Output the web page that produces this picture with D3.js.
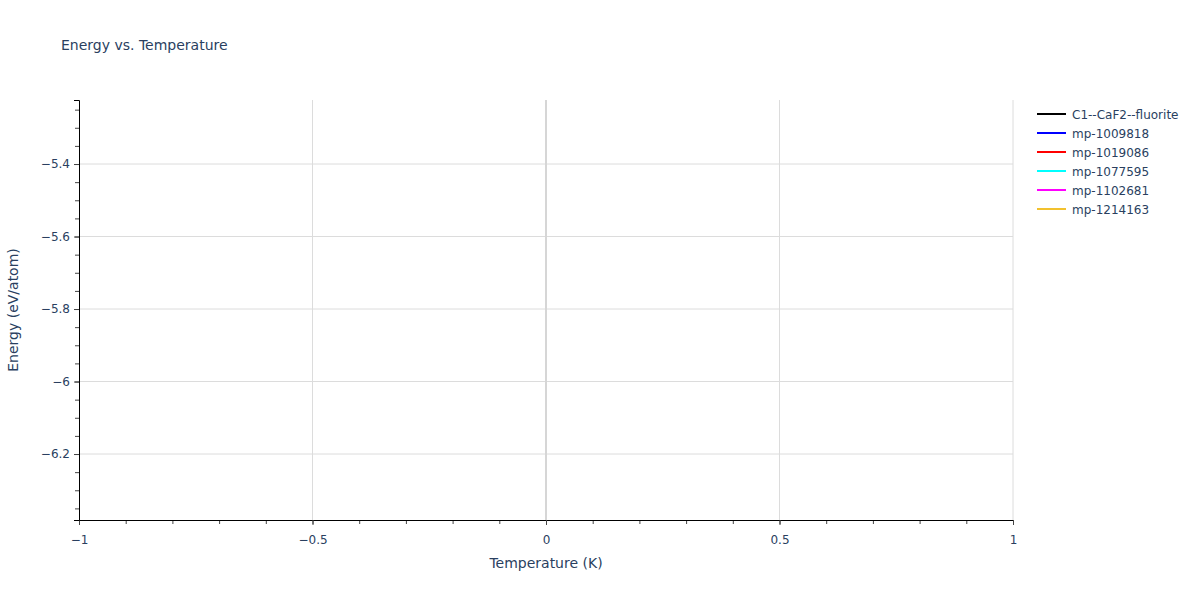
<!DOCTYPE html>
<html>
<head>
<meta charset="utf-8">
<script src="https://cdn.jsdelivr.net/npm/d3@7"></script>
<style>
  body { margin: 0; background: #fff; }
  svg text { font-family: "DejaVu Sans", Verdana, sans-serif; fill: #2a3f5f; }
</style>
</head>
<body>
<svg id="chart" width="1200" height="600"></svg>
<script>
// series shown in the legend; each one has a single point at T = 0
var seriesNames = ['C1--CaF2--fluorite', 'mp-1009818', 'mp-1019086', 'mp-1077595', 'mp-1102681', 'mp-1214163'];
var seriesColors = ['#000000', '#0000ff', '#ff0000', '#00ffff', '#ff00ff', '#f2c12e'];
var temperatures = [0];
var energies = [-5.28, -5.95, -6.05, -6.33, -5.62, -5.78];

var xTicks = [-1, -0.5, 0, 0.5, 1];
var yTicks = [-6.2, -6, -5.8, -5.6, -5.4];

var margin = {left: 79, right: 187, top: 100, bottom: 80};
var width = 1200 - margin.left - margin.right;
var height = 600 - margin.top - margin.bottom;

var svg = d3.select('#chart');

var x = d3.scaleLinear().domain([-1, 1]).range([0, width]);
var y = d3.scaleLinear().domain([-6.382, -5.2234]).range([height, 0]);

var g = svg.append('g').attr('transform', 'translate(' + margin.left + ',' + margin.top + ')');

// grid
g.selectAll('.ygrid').data(yTicks).enter().append('line')
  .attr('x1', 0).attr('x2', width)
  .attr('y1', function(d) { return y(d); }).attr('y2', function(d) { return y(d); })
  .attr('stroke', '#dcdcdc').attr('stroke-width', 1);

g.selectAll('.xgrid').data(xTicks.filter(function(d) { return d !== 0 && d !== -1; })).enter().append('line')
  .attr('y1', 0).attr('y2', height)
  .attr('x1', function(d) { return x(d); }).attr('x2', function(d) { return x(d); })
  .attr('stroke', '#dcdcdc').attr('stroke-width', 1);

// zero line
g.append('line')
  .attr('x1', x(0)).attr('x2', x(0)).attr('y1', 0).attr('y2', height)
  .attr('stroke', '#d6d6d6').attr('stroke-width', 2);

// data (single points -> nothing visible, like the original)
var line = d3.line()
  .x(function(d) { return x(d[0]); })
  .y(function(d) { return y(d[1]); });

seriesNames.forEach(function(name, i) {
  var pts = temperatures.map(function(t) { return [t, energies[i]]; });
  g.append('path')
    .attr('d', line(pts))
    .attr('fill', 'none')
    .attr('stroke', seriesColors[i])
    .attr('stroke-width', 2);
});

function minus(s) { return s.replace('-', '\u2212'); }

// x axis: minor ticks, then major ticks + labels
var xMinor = g.append('g').attr('transform', 'translate(0,' + height + ')')
  .call(d3.axisBottom(x).tickValues(d3.range(-10, 11).map(function(k) { return k / 10; })).tickSize(4).tickFormat(''));
var xAxis = g.append('g').attr('transform', 'translate(0,' + height + ')')
  .call(d3.axisBottom(x).tickValues(xTicks).tickSize(5)
    .tickFormat(function(d) { return minus(d3.format('')(d)); }));
xMinor.selectAll('.domain').remove();
xMinor.selectAll('line').attr('stroke', '#444');
xAxis.selectAll('.domain').attr('stroke', '#000');
xAxis.selectAll('line').attr('stroke', '#444');
xAxis.selectAll('text').attr('font-size', 12).attr('dy', '1.3em')
  .style('font-family', '"DejaVu Sans", Verdana, sans-serif').attr('fill', '#2a3f5f');

// y axis
var yMinor = g.append('g')
  .call(d3.axisLeft(y).tickValues(d3.range(-127, -104).map(function(k) { return k / 20; })).tickSize(4).tickFormat(''));
var yAxis = g.append('g')
  .call(d3.axisLeft(y).tickValues(yTicks).tickSize(5)
    .tickFormat(function(d) { return minus(d3.format('')(Math.round(d * 10) / 10)); }));
yMinor.selectAll('.domain').remove();
yMinor.selectAll('line').attr('stroke', '#444');
yAxis.selectAll('.domain').attr('stroke', '#000');
yAxis.selectAll('line').attr('stroke', '#444');
yAxis.selectAll('text').attr('font-size', 12).attr('x', -9)
  .style('font-family', '"DejaVu Sans", Verdana, sans-serif').attr('fill', '#2a3f5f');

// titles
svg.append('text').attr('x', 61).attr('y', 50).attr('font-size', 14).text('Energy vs. Temperature');

svg.append('text').attr('x', margin.left + width / 2).attr('y', 568)
  .attr('text-anchor', 'middle').attr('font-size', 14).text('Temperature (K)');

svg.append('text')
  .attr('transform', 'translate(18,' + (margin.top + height / 2) + ') rotate(-90)')
  .attr('text-anchor', 'middle').attr('font-size', 14).text('Energy (eV/atom)');

// legend
var legend = svg.append('g').attr('transform', 'translate(1037,114)');
var item = legend.selectAll('g').data(seriesNames).enter().append('g')
  .attr('transform', function(d, i) { return 'translate(0,' + i * 19 + ')'; });
item.append('line').attr('x1', 0).attr('x2', 29).attr('y1', 0).attr('y2', 0)
  .attr('stroke', function(d, i) { return seriesColors[i]; }).attr('stroke-width', 2);
item.append('text').attr('x', 35).attr('y', 4.5).attr('font-size', 12).text(function(d) { return d; });
</script>
</body>
</html>
